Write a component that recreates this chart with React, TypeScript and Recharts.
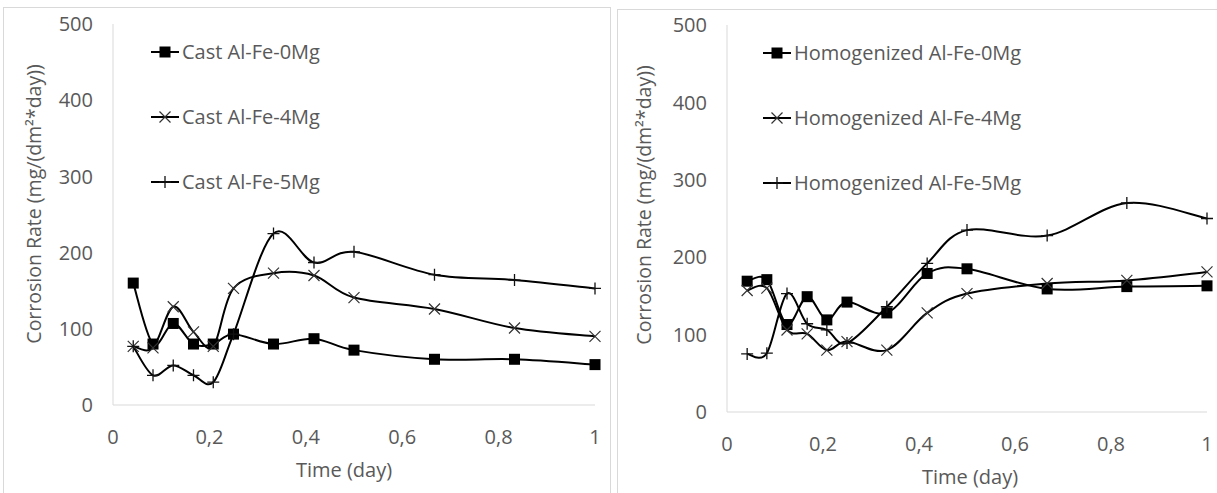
import React from 'react';
import { LineChart, Line, XAxis, YAxis } from 'recharts';

// time in days (1h .. 24h)
const times = [0.042, 0.083, 0.125, 0.167, 0.208, 0.25, 0.333, 0.417, 0.5, 0.667, 0.833, 1];

const cast0Mg = [160, 80, 107, 80, 80, 93, 80, 87, 72, 60, 60, 53];
const cast4Mg = [77, 75, 129, 96, 77, 153, 173, 170, 141, 126, 101, 90];
const cast5Mg = [77, 39, 52, 39, 30, 93, 225, 187, 201, 171, 164, 153];

const homo0Mg = [169, 171, 113, 149, 119, 142, 128, 179, 185, 159, 162, 163];
const homo4Mg = [157, 160, 106, 101, 80, 91, 80, 128, 153, 166, 170, 181];
const homo5Mg = [75, 76, 153, 114, 106, 89, 136, 192, 235, 228, 270, 250];

const castNames = ['Cast Al-Fe-0Mg', 'Cast Al-Fe-4Mg', 'Cast Al-Fe-5Mg'];
const homoNames = ['Homogenized Al-Fe-0Mg', 'Homogenized Al-Fe-4Mg', 'Homogenized Al-Fe-5Mg'];

const xTicks = [0, 0.2, 0.4, 0.6, 0.8, 1];
const yTicks = [0, 100, 200, 300, 400, 500];

const FONT = '"Open Sans", sans-serif';
const GRAY = '#595959';
const AXIS = '#d9d9d9';

// Excel-like smoothed line (Catmull-Rom as cubic bezier)
const excelCurve = (context: any) => {
  let pts: number[][] = [];
  return {
    areaStart() {},
    areaEnd() {},
    lineStart() {
      pts = [];
    },
    point(x: number, y: number) {
      pts.push([+x, +y]);
    },
    lineEnd() {
      const n = pts.length;
      if (!n) return;
      context.moveTo(pts[0][0], pts[0][1]);
      const t = 1 / 6;
      for (let i = 0; i < n - 1; i++) {
        const p0 = pts[Math.max(i - 1, 0)];
        const p1 = pts[i];
        const p2 = pts[i + 1];
        const p3 = pts[Math.min(i + 2, n - 1)];
        context.bezierCurveTo(
          p1[0] + (p2[0] - p0[0]) * t,
          p1[1] + (p2[1] - p0[1]) * t,
          p2[0] - (p3[0] - p1[0]) * t,
          p2[1] - (p3[1] - p1[1]) * t,
          p2[0],
          p2[1]
        );
      }
    },
  };
};

const Square = ({ cx, cy }: { cx: number; cy: number }) => (
  <rect x={cx - 5.5} y={cy - 5.5} width={11} height={11} fill="#000" />
);
const Cross = ({ cx, cy }: { cx: number; cy: number }) => (
  <path d={`M${cx - 5.5},${cy - 5.5}L${cx + 5.5},${cy + 5.5}M${cx - 5.5},${cy + 5.5}L${cx + 5.5},${cy - 5.5}`} stroke="#333" strokeWidth={1.2} fill="none" />
);
const Plus = ({ cx, cy }: { cx: number; cy: number }) => (
  <path d={`M${cx - 6},${cy}L${cx + 6},${cy}M${cx},${cy - 6}L${cx},${cy + 6}`} stroke="#111" strokeWidth={1.3} fill="none" />
);

const markers = [Square, Cross, Plus];

const dotFor = (M: any) => (p: any) => (
  <g key={`d-${p.index}`}>
    <M cx={p.cx} cy={p.cy} />
  </g>
);

type PanelProps = {
  left: number;
  width: number;
  names: string[];
  series: number[][];
  axisX: number;
  plotRight: number;
  plotTop: number;
  plotBottom: number;
  titleX: number;
  titleY: number;
  timeDx: number;
};

const Panel = ({ left, width, names, series, axisX, plotRight, plotTop, plotBottom, titleX, titleY, timeDx }: PanelProps) => {
  const data = times.map((t, i) => ({ t, a: series[0][i], b: series[1][i], c: series[2][i] }));
  const yAxisW = 60;
  const xAxisH = 58;
  return (
    <div style={{ position: 'absolute', left, top: 0 }}>
      <LineChart
        width={width}
        height={493}
        data={data}
        style={{ overflow: 'visible' }}
        margin={{ top: plotTop, right: width - plotRight, bottom: 493 - plotBottom - xAxisH, left: axisX - yAxisW }}
      >
        <XAxis
          dataKey="t"
          type="number"
          domain={[0, 1]}
          ticks={xTicks}
          tickFormatter={(v) => String(v).replace('.', ',')}
          stroke={AXIS}
          tickLine={false}
          tickSize={0}
          tickMargin={25}
          height={xAxisH}
          tick={{ fill: GRAY, fontSize: 20, fontFamily: FONT }}
          label={{ value: 'Time (day)', position: 'bottom', offset: 0, dx: timeDx, fill: GRAY, fontSize: 20, fontFamily: FONT }}
        />
        <YAxis
          type="number"
          domain={[0, 500]}
          ticks={yTicks}
          stroke={AXIS}
          tickLine={false}
          tickSize={0}
          tickMargin={20}
          width={yAxisW}
          tick={{ fill: GRAY, fontSize: 20, fontFamily: FONT }}
          label={{
            content: () => (
              <text
                x={titleX}
                y={titleY}
                transform={`rotate(-90 ${titleX} ${titleY})`}
                textAnchor="middle"
                dominantBaseline="central"
                fill={GRAY}
                fontSize={19.5}
                fontFamily={FONT}
              >
                Corrosion Rate (mg/(dm²*day))
              </text>
            ),
          }}
        />
        {['a', 'b', 'c'].map((k, i) => (
          <Line
            key={k}
            dataKey={k}
            name={names[i]}
            type={excelCurve as any}
            stroke="#000"
            strokeWidth={2}
            dot={dotFor(markers[i])}
            activeDot={false}
            isAnimationActive={false}
          />
        ))}
      </LineChart>
    </div>
  );
};

const LegendBox = ({ x, y, names }: { x: number; y: number; names: string[] }) => (
  <div style={{ position: 'absolute', left: x, top: y }}>
    {names.map((n, i) => {
      const M = markers[i];
      return (
        <div key={n} style={{ position: 'absolute', left: 0, top: i * 65 - 14, height: 28, display: 'flex', alignItems: 'center', whiteSpace: 'nowrap' }}>
          <svg width={30} height={28} style={{ display: 'block' }}>
            <line x1={0} y1={14} x2={28} y2={14} stroke="#000" strokeWidth={2} />
            <M cx={14} cy={14} />
          </svg>
          <span style={{ fontFamily: FONT, fontSize: 20, color: GRAY, marginLeft: 1, lineHeight: '28px' }}>{n}</span>
        </div>
      );
    })}
  </div>
);

export default function App() {
  return (
    <div style={{ position: 'fixed', left: 0, top: 0, width: 1217, height: 493, background: '#fff', overflow: 'hidden' }}>
      <div style={{ position: 'absolute', left: 3, top: 7, width: 608, height: 500, border: `1.5px solid ${AXIS}`, borderBottom: 'none', boxSizing: 'border-box' }} />
      <div style={{ position: 'absolute', left: 617, top: 9, width: 620, height: 500, borderLeft: `1.5px solid ${AXIS}`, borderTop: `1.5px solid ${AXIS}`, boxSizing: 'border-box' }} />
      <Panel
        left={0}
        width={612}
        names={castNames}
        series={[cast0Mg, cast4Mg, cast5Mg]}
        axisX={113}
        plotRight={595}
        plotTop={24}
        plotBottom={405}
        titleX={33}
        titleY={204}
        timeDx={-10}
      />
      <Panel
        left={612}
        width={605}
        names={homoNames}
        series={[homo0Mg, homo4Mg, homo5Mg]}
        axisX={115}
        plotRight={595}
        plotTop={25}
        plotBottom={412}
        titleX={31}
        titleY={205}
        timeDx={3}
      />
      <LegendBox x={151} y={52} names={castNames} />
      <LegendBox x={763} y={53} names={homoNames} />
    </div>
  );
}
